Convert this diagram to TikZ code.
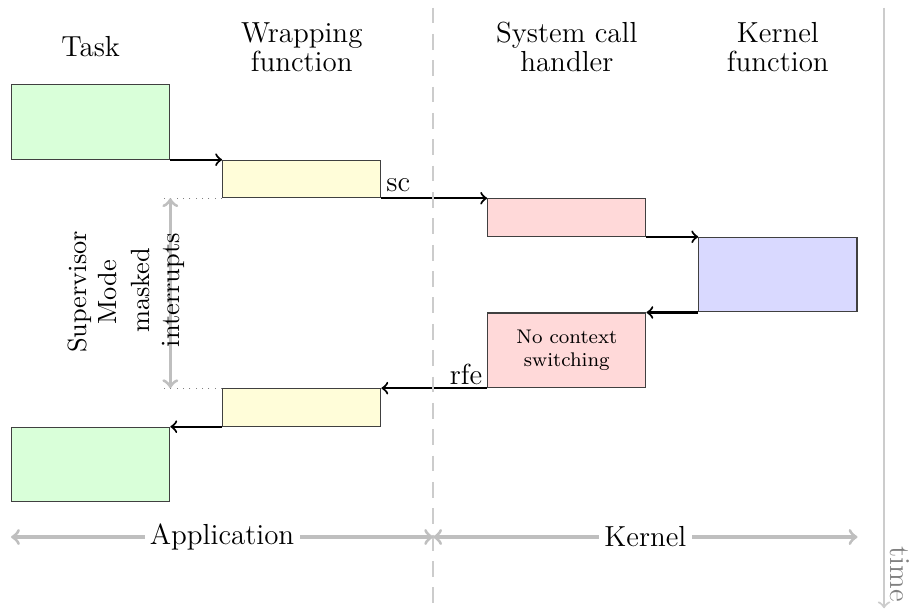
\documentclass[tikz,border=0pt]{standalone}
\usetikzlibrary{positioning, arrows}
\tikzset{
  syscall/.style={
	font=\fontsize{11}{11}\selectfont, % text size of the whole picture
	every node/.style={inner sep=2pt},
  },
  block/.style={draw=black!75, inner sep=0pt, minimum width=2.11cm}, % one activation of a routine
  tallblock/.style={block, minimum height=0.995cm},
  flatblock/.style={block, minimum height=0.5cm},
  call/.style={->, thick}, % control passes to the next routine
  span/.style={<->, draw=gray!50, line width=1.2pt}, % grey extent arrows
  head/.style={align=center},
  sidenote/.style={rotate=90, align=center, font=\fontsize{10}{11.5}\selectfont},
}

\begin{document}
\begin{tikzpicture}[syscall]
	  \useasboundingbox (0,0) rectangle (12.213,-8.16);
	  % the routines, one step down in time each
	  \node[tallblock, fill=green!15, anchor=north west] (task1) at (0.147,-1.12) {};
	  \node[flatblock, fill=yellow!15, below right=0cm and 0.69cm of task1.south east] (wrap1) {};
	  \node[flatblock, fill=red!15, below right=0cm and 1.41cm of wrap1.south east] (hdl1) {};
	  \node[tallblock, fill=blue!15, below right=0cm and 0.69cm of hdl1.south east] (kfun) {};
	  \node[tallblock, fill=red!15, below left=0cm and 0.69cm of kfun.south west, align=center, font=\fontsize{7.5}{9}\selectfont] (hdl2) {No context\\switching};
	  \node[flatblock, fill=yellow!15, below left=0cm and 1.41cm of hdl2.south west] (wrap2) {};
	  \node[tallblock, fill=green!15, below left=0cm and 0.69cm of wrap2.south west] (task2) {};
	  % column titles
	  \coordinate (hrow) at (0,-0.627);
	  \node[head] (htask) at (task1 |- hrow) {Task};
	  \node[head] (hwrap) at (wrap1 |- hrow) {Wrapping\\function};
	  \node[head] (hhdl) at (hdl1 |- hrow) {System call\\handler};
	  \node[head] (hkfun) at (kfun |- hrow) {Kernel\\function};
	  \path[call] (task1.south east) edge (wrap1.north west)
		  (wrap1.south east) edge node[pos=0.16, above] {sc} (hdl1.north west)
		  (hdl1.south east) edge (kfun.north west)
		  (kfun.south west) edge (hdl2.north east)
		  (hdl2.south west) edge node[pos=0.2, above, inner sep=1pt] {rfe} (wrap2.north east)
		  (wrap2.south west) edge (task2.north east)
	  ;
	  % supervisor mode
	  \coordinate[left=0.84cm of wrap1.south west] (mtop);
	  \coordinate[left=0.84cm of wrap2.north west] (mbot);
	  \draw[dotted, gray] (wrap1.south west) -- (mtop);
	  \draw[dotted, gray] (wrap2.north west) -- (mbot);
	  \draw[span] (task1.east |- wrap1.south) -- (task1.east |- wrap2.north);
	  \node[sidenote] (smode) at (1.227,-3.893) {Supervisor\\Mode};
	  \node[sidenote] (masked) at (2.107,-3.87) {masked\\interrupts};
	  % application / kernel border
	  \coordinate (dtop) at (5.775,-0.1);
	  \coordinate (dbot) at (5.775,-8.07);
	  \draw[gray!40, line width=0.8pt, dash pattern=on 6pt off 4pt] (dtop) -- (dbot);
	  \coordinate (brow) at (0,-7.16);
	  \coordinate (aL) at (task2.west |- brow);
	  \coordinate (aM) at (dtop |- brow);
	  \coordinate (aR) at (kfun.east |- brow);
	  \draw[span] (aL) -- node[fill=white] {Application} (aM);
	  \draw[span] (aM) -- node[fill=white] {Kernel} (aR);
	  % time axis
	  \coordinate (ttop) at (11.787,-0.1);
	  \coordinate (tbot) at (11.787,-8.11);
	  \draw[->, gray!40, line width=0.8pt] (ttop) -- (tbot) node[rotate=-90, anchor=south east, text=gray] (tlabel) {time};
\end{tikzpicture}
\end{document}
